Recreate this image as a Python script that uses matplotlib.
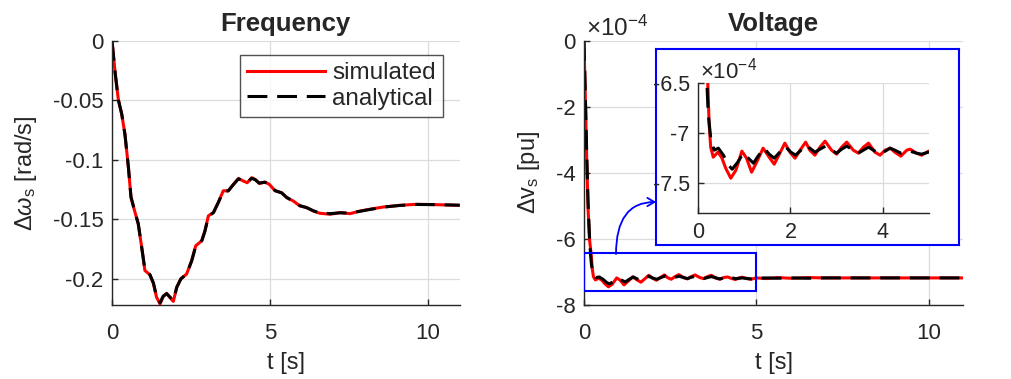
"""Frequency and voltage step response: simulated vs analytical."""

import matplotlib

matplotlib.use("Agg")

import matplotlib.pyplot as plt
from matplotlib.patches import FancyArrowPatch, Rectangle
from matplotlib.ticker import FuncFormatter

# ---- data -------------------------------------------------------------------
freq_t = [0, 0.1, 0.2, 0.31, 0.41, 0.52, 0.60, 0.73, 0.83, 0.94, 1.04, 1.2, 1.31, 1.41,
          1.52, 1.62, 1.73, 1.84, 1.94, 2.05, 2.18, 2.36, 2.52, 2.65, 2.84, 2.94, 3.05,
          3.21, 3.36, 3.52, 3.68, 3.84, 4.0, 4.16, 4.28, 4.42, 4.53, 4.66, 4.84, 4.98,
          5.16, 5.37, 5.53, 5.74, 5.95, 6.16, 6.37, 6.58, 6.9, 7.22, 7.53, 7.85, 8.16,
          8.59, 9.11, 9.64, 10.17, 11.0]
freq_sim = [0, -0.027, -0.0494, -0.062, -0.0787, -0.1066, -0.1317, -0.1443, -0.154, -0.1736,
            -0.193, -0.1966, -0.204, -0.2155, -0.2212, -0.215, -0.2122, -0.2160, -0.219,
            -0.207, -0.200, -0.196, -0.1848, -0.1722, -0.168, -0.1597, -0.147, -0.1443,
            -0.136, -0.126, -0.126, -0.1206, -0.1156, -0.1178, -0.1192, -0.115, -0.1164,
            -0.1198, -0.1186, -0.1206, -0.126, -0.1276, -0.1318, -0.1346, -0.1388, -0.140,
            -0.143, -0.1449, -0.1457, -0.1443, -0.1452, -0.143, -0.1415, -0.1396, -0.1382,
            -0.1373, -0.1376, -0.1382]
freq_ana = [0, -0.027, -0.0494, -0.0618, -0.0787, -0.1066, -0.1310, -0.1443, -0.1535, -0.1736,
            -0.192, -0.1966, -0.2035, -0.2150, -0.2200, -0.2145, -0.2125, -0.2155, -0.2180,
            -0.207, -0.200, -0.196, -0.1850, -0.1725, -0.168, -0.1600, -0.1475, -0.1443,
            -0.136, -0.1265, -0.126, -0.1208, -0.1160, -0.1175, -0.1188, -0.1155, -0.1166,
            -0.1195, -0.1188, -0.1206, -0.1258, -0.1278, -0.1316, -0.1348, -0.1385, -0.1402,
            -0.1428, -0.1446, -0.1452, -0.1445, -0.1448, -0.1432, -0.1417, -0.1397, -0.1383,
            -0.1375, -0.1376, -0.1381]

# voltage values in units of 1e-4 pu
volt_t_sim = [0, 0.04, 0.08, 0.12, 0.16, 0.21, 0.24, 0.275, 0.33, 0.43, 0.51, 0.60, 0.71,
              0.82, 0.95, 1.05, 1.16, 1.27, 1.41, 1.54, 1.65, 1.75, 1.88, 1.99, 2.10, 2.21,
              2.33, 2.42, 2.53, 2.64, 2.75, 2.89, 3.0, 3.11, 3.22, 3.36, 3.47, 3.58, 3.69,
              3.83, 3.94, 4.05, 4.16, 4.26, 4.39, 4.52, 4.59, 4.73, 4.84, 4.99, 5.3, 5.6,
              6.0, 6.5, 7.0, 8.0, 9.0, 10.0, 11.0]
volt_sim = [0, -1.7, -3.6, -5.1, -6.0, -6.47, -6.90, -7.14, -7.24, -7.19, -7.24, -7.35,
            -7.45, -7.37, -7.18, -7.25, -7.39, -7.29, -7.15, -7.24, -7.31, -7.22, -7.10,
            -7.19, -7.25, -7.17, -7.09, -7.17, -7.22, -7.14, -7.08, -7.17, -7.21, -7.14,
            -7.09, -7.17, -7.20, -7.14, -7.10, -7.19, -7.22, -7.17, -7.15, -7.19, -7.23,
            -7.17, -7.16, -7.20, -7.22, -7.18, -7.20, -7.17, -7.19, -7.17, -7.18, -7.18,
            -7.18, -7.18, -7.18]
volt_t_ana = [0, 0.04, 0.08, 0.12, 0.16, 0.19, 0.22, 0.28, 0.35, 0.44, 0.55, 0.66, 0.74,
              0.86, 0.98, 1.09, 1.20, 1.30, 1.43, 1.54, 1.65, 1.77, 1.88, 2.01, 2.11, 2.23,
              2.35, 2.42, 2.53, 2.64, 2.76, 2.89, 3.0, 3.11, 3.22, 3.36, 3.47, 3.58, 3.69,
              3.83, 3.94, 4.05, 4.16, 4.26, 4.39, 4.52, 4.59, 4.73, 4.84, 4.99, 5.3, 5.6,
              6.0, 6.5, 7.0, 8.0, 9.0, 10.0, 11.0]
volt_ana = [0, -1.6, -3.4, -4.9, -5.9, -6.47, -6.80, -7.07, -7.17, -7.15, -7.22, -7.32,
            -7.36, -7.29, -7.20, -7.25, -7.30, -7.23, -7.15, -7.21, -7.25, -7.19, -7.13,
            -7.19, -7.22, -7.17, -7.12, -7.15, -7.19, -7.16, -7.13, -7.17, -7.20, -7.16,
            -7.13, -7.17, -7.20, -7.17, -7.14, -7.18, -7.21, -7.18, -7.15, -7.17, -7.20,
            -7.19, -7.18, -7.20, -7.21, -7.19, -7.18, -7.19, -7.18, -7.19, -7.18, -7.18,
            -7.18, -7.18, -7.18]

freq_yticks = [-0.2, -0.15, -0.1, -0.05, 0]
volt_yticks = [-8, -6, -4, -2, 0]
inset_yticks = [-7.5, -7, -6.5]
main_xticks = [0, 5, 10]
inset_xticks = [0, 2, 4]

# ---- style ------------------------------------------------------------------
TXT = "#262626"
plt.rcParams.update({
    "font.family": ["Liberation Sans", "DejaVu Sans"],
    "mathtext.fontset": "custom",
    "mathtext.rm": "Liberation Sans",
    "mathtext.it": "Liberation Sans:italic",
    "mathtext.bf": "Liberation Sans:bold",
    "axes.unicode_minus": False,
    "text.color": TXT,
    "axes.labelcolor": TXT,
    "xtick.color": TXT,
    "ytick.color": TXT,
})

RED = dict(color="red", linewidth=2.2, solid_joinstyle="round")
BLACK = dict(color="black", linewidth=2.2, linestyle=(0, (6.5, 3.2)))
fmt = FuncFormatter(lambda v, _: f"{v:g}")


def style_axes(ax, size=16, xpad=6):
    for side in ("top", "right"):
        ax.spines[side].set_visible(False)
    for side in ("left", "bottom"):
        ax.spines[side].set_color(TXT)
        ax.spines[side].set_linewidth(1.0)
    ax.tick_params(direction="in", length=4, width=1.0, labelsize=size, pad=6)
    ax.tick_params(axis="x", pad=xpad)
    ax.grid(True, color="#dcdcdc", linewidth=0.9)
    ax.set_axisbelow(True)
    ax.yaxis.set_major_formatter(fmt)
    ax.xaxis.set_major_formatter(fmt)


fig = plt.figure(figsize=(10.11, 3.79), dpi=100)

# ---- frequency --------------------------------------------------------------
ax1 = fig.add_axes([0.1108, 0.1953, 0.3438, 0.6966])
ax1.plot(freq_t, freq_sim, label="simulated", **RED)
ax1.plot(freq_t, freq_ana, label="analytical", **BLACK)
ax1.set_xlim(0, 11)
ax1.set_ylim(-0.222, 0)
ax1.set_xticks(main_xticks)
ax1.set_yticks(freq_yticks)
style_axes(ax1, xpad=13)
ax1.set_title("Frequency", fontsize=18.5, fontweight="bold", pad=7)
ax1.set_xlabel("t [s]", fontsize=17, labelpad=6)
ax1.set_ylabel(r"$\Delta\mathit{\omega}_\mathrm{s}$ [rad/s]", fontsize=17, labelpad=10)
leg = ax1.legend(loc="upper right", bbox_to_anchor=(0.952, 0.947), fontsize=17.5,
                 frameon=True, fancybox=False, handlelength=3.2, handletextpad=0.3,
                 borderpad=0.3, labelspacing=0.15, borderaxespad=0)
leg.get_frame().set_edgecolor(TXT)
leg.get_frame().set_linewidth(1.0)

# ---- voltage ----------------------------------------------------------------
ax2 = fig.add_axes([0.5776, 0.1953, 0.3754, 0.6966])
ax2.plot(volt_t_sim, volt_sim, **RED)
ax2.plot(volt_t_ana, volt_ana, **BLACK)
ax2.set_xlim(0, 11)
ax2.set_ylim(-8, 0)
ax2.set_xticks(main_xticks)
ax2.set_yticks(volt_yticks)
style_axes(ax2, xpad=13)
ax2.set_title("Voltage", fontsize=18.5, fontweight="bold", pad=7)
ax2.set_xlabel("t [s]", fontsize=17, labelpad=6)
ax2.set_ylabel(r"$\Delta\mathrm{v}_\mathrm{s}$ [pu]", fontsize=17, labelpad=10)
ax2.text(0.005, 1.0, r"$\times$10$^{-4}$", transform=ax2.transAxes, fontsize=17.5,
         ha="left", va="bottom")
ax2.add_patch(Rectangle((0, -7.58), 5, 1.14, fill=False, edgecolor="blue",
                        linewidth=1.5, zorder=5))

# white panel with blue border behind the inset
box = fig.add_axes([0.6489, 0.3536, 0.2997, 0.5171])
box.set_xticks([])
box.set_yticks([])
box.set_facecolor("white")
for sp in box.spines.values():
    sp.set_color("blue")
    sp.set_linewidth(1.5)

ax3 = fig.add_axes([0.6904, 0.4372, 0.2285, 0.3438])
ax3.plot(volt_t_sim, volt_sim, **RED)
ax3.plot(volt_t_ana, volt_ana, **BLACK)
ax3.set_xlim(0, 5)
ax3.set_ylim(-7.8, -6.5)
ax3.set_xticks(inset_xticks)
ax3.set_yticks(inset_yticks)
style_axes(ax3, size=15.5)
ax3.set_facecolor("none")
ax3.text(0.01, 1.0, r"$\times$10$^{-4}$", transform=ax3.transAxes, fontsize=16,
         ha="left", va="bottom")

fig.patches.append(FancyArrowPatch(
    (0.6093, 0.3298), (0.6489, 0.467), transform=fig.transFigure,
    connectionstyle="angle3,angleA=90,angleB=0", arrowstyle="->,head_length=5,head_width=3",
    color="blue", linewidth=1.3, shrinkA=0, shrinkB=0))

fig.savefig("out.png", dpi=100)
